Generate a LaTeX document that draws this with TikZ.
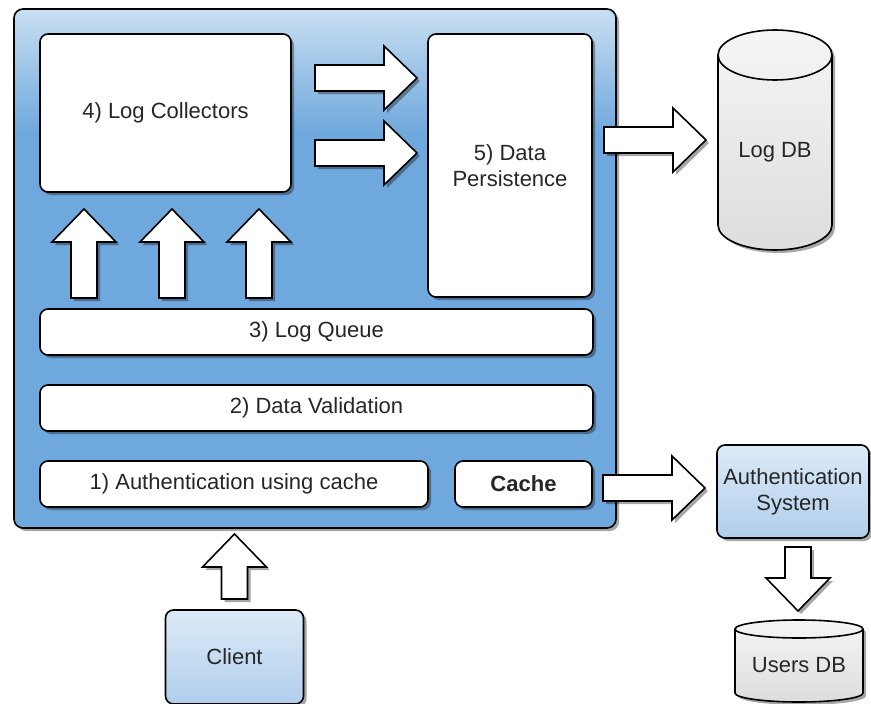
\documentclass[tikz,border=0pt]{standalone}
\usepackage{fontspec}
\setmainfont{Liberation Sans}
\usetikzlibrary{shadows,calc,positioning,backgrounds}
\definecolor{panelBlue}{HTML}{6FA8DC}
\definecolor{panelLight}{HTML}{C9DFF3}
\definecolor{clientTop}{HTML}{DDEAF7}
\definecolor{clientBottom}{HTML}{B0CEEC}
\definecolor{dbTop}{HTML}{F5F5F5}
\definecolor{dbBottom}{HTML}{DDDDDD}
\definecolor{labelText}{HTML}{262626}
% the path is mapped on 25bp..75bp of the shading
\pgfdeclareverticalshading{panelShade}{100bp}{color(0bp)=(panelBlue); color(63bp)=(panelBlue); color(75bp)=(panelLight); color(100bp)=(panelLight)}
\tikzstyle{boxShadow}=[drop shadow={shadow xshift=3pt, shadow yshift=-3pt, opacity=0.35, fill=black}]
\tikzstyle{panel}=[draw, line width=1.6pt, rounded corners=9pt, shading=panelShade, boxShadow, inner sep=0pt, outer sep=0pt]
\tikzstyle{innerbox}=[draw, line width=1.6pt, rounded corners=8pt, fill=white, boxShadow, text=labelText, align=center, inner sep=0pt, outer sep=0pt]
\tikzstyle{clientbox}=[innerbox, top color=clientTop, bottom color=clientBottom]
\tikzstyle{dblabel}=[text=labelText, inner sep=0pt, outer sep=0pt]
\tikzstyle{dbShape}=[draw, line width=1.6pt, top color=dbTop, bottom color=dbBottom, boxShadow]
\tikzstyle{blockArrow}=[draw, line width=1.6pt, fill=white, line join=miter, boxShadow]
\newcommand{\blockarrow}[2]{%
  \coordinate (hb) at ($(#2)!33pt!(#1)$);
  \draw[blockArrow] ($(#1)!13pt!90:(#2)$) -- ($(hb)!13pt!90:(#2)$) -- ($(hb)!32pt!90:(#2)$) -- (#2)
    -- ($(hb)!32pt!-90:(#2)$) -- ($(hb)!13pt!-90:(#2)$) -- ($(#1)!13pt!-90:(#2)$) -- cycle;
}
% cylinder round a db node: node, x radius, y radius
\newcommand{\dbcylinder}[3]{%
  \draw[dbShape] (#1.north west) -- ($(#1.south west)+(0,-#3)$)
    arc[start angle=180, end angle=0, x radius=#2, y radius=#3]
    -- (#1.north east) arc[start angle=0, end angle=-180, x radius=#2, y radius=#3] -- cycle;
  \draw[line width=1.6pt] (#1.north west) arc[start angle=180, end angle=0, x radius=#2, y radius=#3];
}

\begin{document}
\begin{tikzpicture}[x=1pt, y=-1pt, font=\fontsize{22}{26}\selectfont]
    \useasboundingbox (0,0) rectangle (871,704);

    % server panel
    \node[panel, minimum width=602, minimum height=519] (server) at (315, 268.5) {};
    \node[innerbox, minimum width=251, minimum height=158] (coll) at (165.5, 113) {4) Log Collectors};
    \node[innerbox, minimum width=164, minimum height=263] (pers) at (510, 165.5) {5) Data\\Persistence};
    \node[innerbox, minimum width=553, minimum height=46] (queue) at (316.5, 332) {3) Log Queue};
    \node[innerbox, minimum width=553, minimum height=46] (valid) at (316.5, 408) {2) Data Validation};
    \node[innerbox, minimum width=388, minimum height=46] (auth) at (234, 484) {1) Authentication using cache};
    \node[innerbox, minimum width=137, minimum height=46] (cache) at (523.5, 484) {\textbf{Cache}};

    % outside nodes
    \node[dblabel, minimum width=114, minimum height=195] (logdb) at (775, 152.5) {Log DB};
    \node[clientbox, minimum width=152, minimum height=93] (authsys) at (793, 491.5) {Authentication\\System};
    \node[dblabel, minimum width=128, minimum height=73] (usersdb) at (799, 665.5) {Users DB};
    \node[clientbox, minimum width=138, minimum height=94] (client) at (234.5, 657) {Client};
    \begin{scope}[on background layer]
        \dbcylinder{logdb}{57}{25}
        \dbcylinder{usersdb}{64}{9}
    \end{scope}

    % block arrows
    \coordinate (a1s) at ($(coll.east)+(24,-35)$);
    \coordinate (a1e) at ($(pers.west)+(-11,-87.5)$);
    \blockarrow{a1s}{a1e}
    \coordinate (a2s) at ($(coll.east)+(24,40)$);
    \coordinate (a2e) at ($(pers.west)+(-11,-12.5)$);
    \blockarrow{a2s}{a2e}
    \foreach \dx [count=\i] in {44,132,219} {
        \coordinate (up\i) at ($(coll.south west)+(\dx,106)$);
        \coordinate (upTip\i) at ($(coll.south west)+(\dx,17)$);
        \blockarrow{up\i}{upTip\i}
    }
    \coordinate (dbs) at ($(pers.east)+(12,-25.5)$);
    \coordinate (dbe) at ($(logdb.west)+(-12,-12.5)$);
    \blockarrow{dbs}{dbe}
    \coordinate (cs) at ($(client.north)+(0,-11)$);
    \coordinate (ce) at ($(client.north)+(0,-76)$);
    \blockarrow{cs}{ce}
    \coordinate (as) at ($(cache.east)+(11,4)$);
    \coordinate (ae) at ($(authsys.west)+(-12,-3.5)$);
    \blockarrow{as}{ae}
    \coordinate (us) at ($(authsys.south)+(5,9)$);
    \coordinate (ue) at ($(usersdb.north)+(-1,-18)$);
    \blockarrow{us}{ue}
\end{tikzpicture}
\end{document}
